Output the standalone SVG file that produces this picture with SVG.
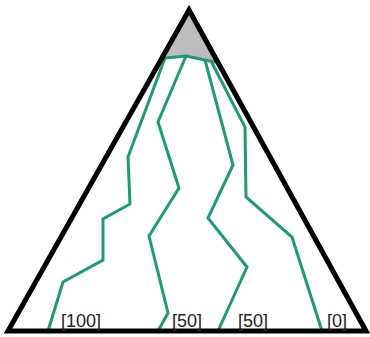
<svg xmlns="http://www.w3.org/2000/svg" width="370" height="337" viewBox="0 0 370 337">
  <style>
    .edge { fill: none; stroke: #000; stroke-width: 5; stroke-linejoin: miter; }
    .flow { fill: none; stroke: #1f9a78; stroke-width: 3; stroke-linejoin: miter; }
    .lbl { font-family: "Liberation Sans", Arial, sans-serif; font-size: 18px; fill: #222; }
  </style>
  <g id="cap">
    <polygon points="189,10 162,58 165,58 186,56 205,60 215,62 218,62" fill="#bdbdbd"/>
  </g>
  <g id="connectors">
    <polyline class="flow" points="162,58 165,58 186,56 205,60 215,62 218,62"/>
    <polyline class="flow" points="165,58 128,157 130,204 103,219 103,260 63,282 48,331"/>
    <polyline class="flow" points="186,56 158,122 179,188 149,236 168,313 158,331"/>
    <polyline class="flow" points="205,60 233,165 208,218 247,267 218,331"/>
    <polyline class="flow" points="211,61 245,127 246,197 292,237 322,331"/>
  </g>
  <g id="triangle">
    <polygon class="edge" points="189,10 8,331 366,331"/>
  </g>
  <g id="labels">
    <text class="lbl" x="61" y="327">[100]</text>
    <text class="lbl" x="172" y="327">[50]</text>
    <text class="lbl" x="238" y="327">[50]</text>
    <text class="lbl" x="327" y="327">[0]</text>
  </g>
</svg>
